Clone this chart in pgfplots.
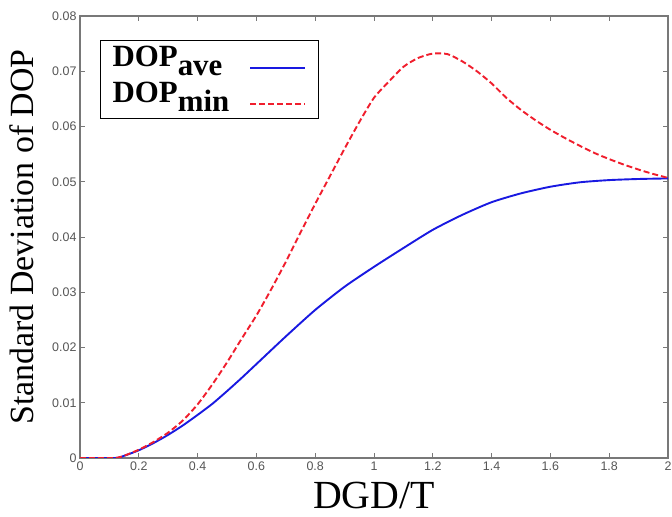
\documentclass[border=0pt]{standalone}
\usepackage{pgfplots}
\pgfplotsset{compat=1.18}
\usepackage{fontspec}
\setmainfont{Liberation Serif}
\newfontfamily\tickfont{Liberation Sans}
\definecolor{axgray}{RGB}{120,120,120}
\definecolor{tickgray}{RGB}{85,85,85}
\definecolor{myblue}{RGB}{25,25,225}
\definecolor{myred}{RGB}{240,30,45}

\pgfplotstableread{
x y
0.00 0
0.12 0
0.15 0.0004
0.20 0.0014
0.25 0.0027
0.30 0.0042
0.35 0.0059
0.40 0.0078
0.45 0.0098
0.50 0.0121
0.55 0.0145
0.60 0.0170
0.70 0.0220
0.80 0.0268
0.90 0.0310
1.00 0.0346
1.10 0.0380
1.20 0.0413
1.30 0.0440
1.40 0.0463
1.50 0.0479
1.60 0.0491
1.70 0.0499
1.80 0.0503
1.90 0.0505
2.00 0.0506
}\dopave

\pgfplotstableread{
x y
0.00 0
0.11 0
0.13 0.0001
0.15 0.0004
0.20 0.0015
0.25 0.0029
0.30 0.0046
0.35 0.0068
0.40 0.0097
0.45 0.0133
0.50 0.0173
0.55 0.0216
0.60 0.0258
0.65 0.0305
0.70 0.0355
0.75 0.0408
0.80 0.0460
0.85 0.0510
0.90 0.0560
0.95 0.0608
1.00 0.0652
1.05 0.0681
1.10 0.0708
1.15 0.0724
1.20 0.0732
1.25 0.0731
1.30 0.0718
1.35 0.0700
1.40 0.0678
1.45 0.0652
1.50 0.0630
1.55 0.0611
1.60 0.0594
1.65 0.0579
1.70 0.0565
1.75 0.0552
1.80 0.0541
1.85 0.0531
1.90 0.0522
1.95 0.0514
2.00 0.0507
}\dopmin

\begin{document}
\begin{tikzpicture}
\path[use as bounding box] (-80bp,-59bp) rectangle (592bp,458bp);
\begin{axis}[
  at={(0,0)}, anchor=south west, scale only axis,
  width=588bp, height=442bp,
  xmin=0, xmax=2, ymin=0, ymax=0.08,
  xtick={0,0.2,0.4,0.6,0.8,1,1.2,1.4,1.6,1.8,2},
  xticklabels={0,0.2,0.4,0.6,0.8,1,1.2,1.4,1.6,1.8,2},
  ytick={0,0.01,0.02,0.03,0.04,0.05,0.06,0.07,0.08},
  yticklabels={0,0.01,0.02,0.03,0.04,0.05,0.06,0.07,0.08},
  scaled y ticks=false,
  tick align=inside, tick pos=both,
  major tick length=5bp,
  axis line style={axgray, line width=1.1bp},
  every tick/.style={axgray, line width=0.9bp},
  ticklabel style={font=\fontsize{12.5}{13}\selectfont\tickfont, text=tickgray},
  /pgf/number format/assume math mode=true,
  every axis x label/.style={at={(axis description cs:0.5,0)}, anchor=base, yshift=-50bp},
  every axis y label/.style={at={(axis description cs:-0.0799,0.5)}, rotate=90, anchor=base},
  xlabel={\fontsize{40}{40}\selectfont DGD/T},
  ylabel={\fontsize{34}{34}\selectfont Standard Deviation of DOP},
  legend style={at={(axis description cs:0.034,0.9457)}, anchor=north west,
    draw=black, line width=1.2bp, inner xsep=12bp, inner ysep=4bp,
    font=\fontsize{31}{31}\selectfont\bfseries,
    nodes={inner sep=0pt, text height=22bp, text depth=12bp},
    row sep=2bp, column sep=20bp},
  legend plot pos=right,
  legend cell align=left,
  legend image code/.code={\draw[#1] (0bp,-6bp) -- (55bp,-6bp);},
]
\addplot[myblue, line width=1.9bp, smooth, tension=0.4] table[x=x,y=y]{\dopave};
\addlegendentry{DOP\raisebox{-9bp}{ave}}
\addplot[myred, line width=1.9bp, dash pattern=on 6bp off 3bp, smooth, tension=0.4] table[x=x,y=y]{\dopmin};
\addlegendentry{DOP\raisebox{-9bp}{min}}
\end{axis}
\end{tikzpicture}
\end{document}
